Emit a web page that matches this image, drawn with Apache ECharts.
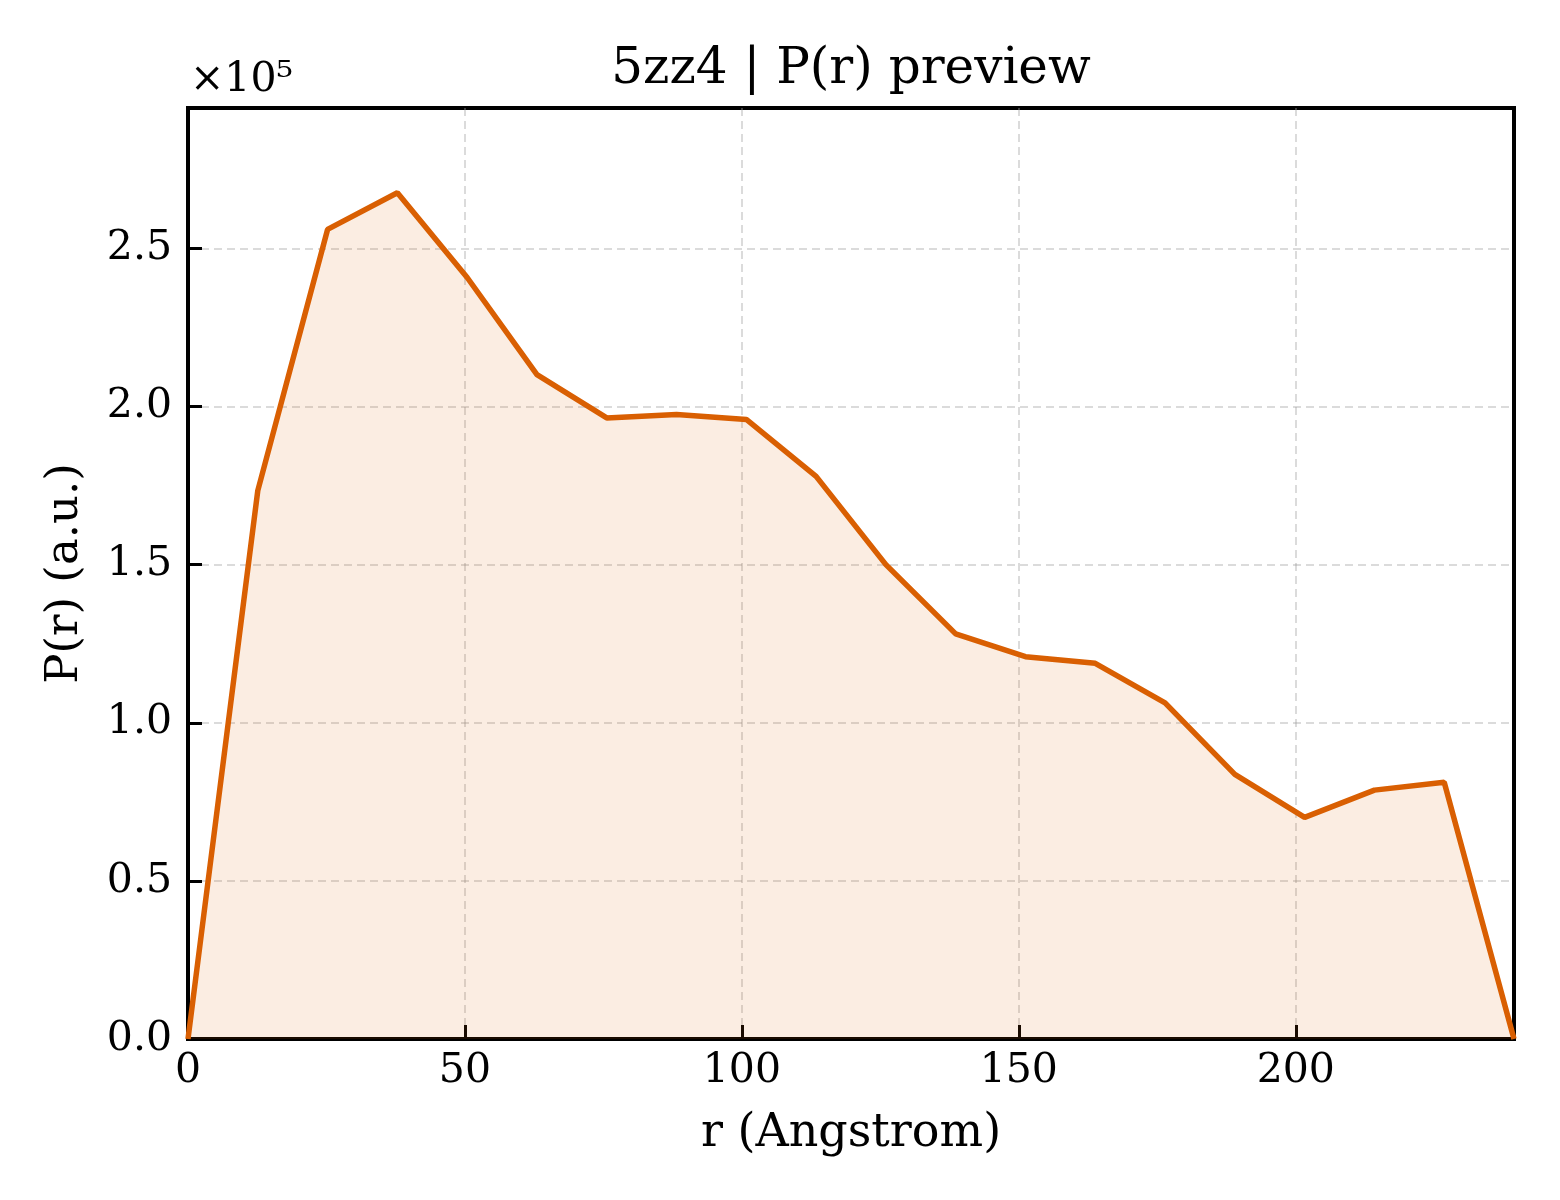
<!DOCTYPE html>
<html>
<head>
<meta charset="utf-8">
<script src="https://cdn.jsdelivr.net/npm/echarts@6/dist/echarts.min.js"></script>
<style>
  html, body { margin: 0; padding: 0; background: #fff; }
  #container { width: 1560px; height: 1200px; }
</style>
</head>
<body>
<div id="container"></div>
<script>
// r in Angstrom, P(r) in arbitrary units
var rValues = [0, 12.6, 25.2, 37.8, 50.4, 63.0, 75.6, 88.2, 100.8, 113.4,
    126.0, 138.6, 151.2, 163.8, 176.4, 189.0, 201.6, 214.2, 226.8, 239.4];
var prValues = [0, 173400, 256000, 267600, 240800, 210100, 196400, 197500, 195900, 177900,
    150000, 128100, 120900, 118800, 106300, 83700, 70100, 78700, 81200, 0];
var yTicks = [0, 50000, 100000, 150000, 200000, 250000];

var rMax = 239.4;
var prMax = 294400;
var font = 'DejaVu Serif';

var dom = document.getElementById("container");
var myChart = echarts.init(dom);

var seriesData = rValues.map(function (r, i) {
    return [r, prValues[i]];
});

var gridLine = { color: 'rgba(160,160,160,0.5)', width: 1.5, type: [8, 5] };

var option = {
    backgroundColor: '#fff',
    animation: false,
    title: {
        text: '5zz4 | P(r) preview',
        left: 846,
        textAlign: 'center',
        top: 40,
        textStyle: {
            fontFamily: font,
            fontWeight: 'normal',
            fontSize: 50,
            color: '#000'
        }
    },
    graphic: [{
        type: 'text',
        left: 190,
        top: 60,
        style: {
            text: '×10⁵',
            font: '41px "DejaVu Serif"',
            fill: '#000'
        }
    }],
    grid: {
        left: 188,
        right: 46,
        top: 108,
        bottom: 161,
        show: true,
        borderColor: '#000',
        borderWidth: 4,
        backgroundColor: 'transparent'
    },
    xAxis: {
        type: 'value',
        min: 0,
        max: rMax,
        interval: 50,
        name: 'r (Angstrom)',
        nameLocation: 'middle',
        nameGap: 72,
        nameTextStyle: {
            fontFamily: font,
            fontSize: 46,
            color: '#000'
        },
        axisLine: { show: true, lineStyle: { color: '#000', width: 4 } },
        axisTick: { show: true, inside: true, length: 14, lineStyle: { color: '#000', width: 3 } },
        axisLabel: {
            showMaxLabel: false,
            margin: 12,
            fontFamily: font,
            fontSize: 41,
            color: '#000'
        },
        splitLine: { show: true, showMaxLine: false, lineStyle: gridLine }
    },
    yAxis: {
        type: 'value',
        min: 0,
        max: prMax,
        interval: 50000,
        name: 'P(r) (a.u.)',
        nameLocation: 'middle',
        nameGap: 100,
        nameTextStyle: {
            fontFamily: font,
            fontSize: 45,
            color: '#000'
        },
        axisLine: { show: true, lineStyle: { color: '#000', width: 4 } },
        axisTick: { show: true, inside: true, length: 14, lineStyle: { color: '#000', width: 3 } },
        axisLabel: {
            showMaxLabel: false,
            margin: 16,
            fontFamily: font,
            fontSize: 41,
            color: '#000',
            formatter: function (v) {
                if (yTicks.indexOf(v) < 0) return '';
                return (v / 100000).toFixed(1);
            }
        },
        splitLine: { show: true, showMaxLine: false, lineStyle: gridLine }
    },
    series: [{
        type: 'line',
        data: seriesData,
        symbol: 'none',
        clip: true,
        lineStyle: { color: '#d95f02', width: 5.5 },
        itemStyle: { color: '#d95f02' },
        areaStyle: { color: 'rgba(217,95,2,0.16)', origin: 'start' }
    }]
};

myChart.setOption(option);
</script>
</body>
</html>
